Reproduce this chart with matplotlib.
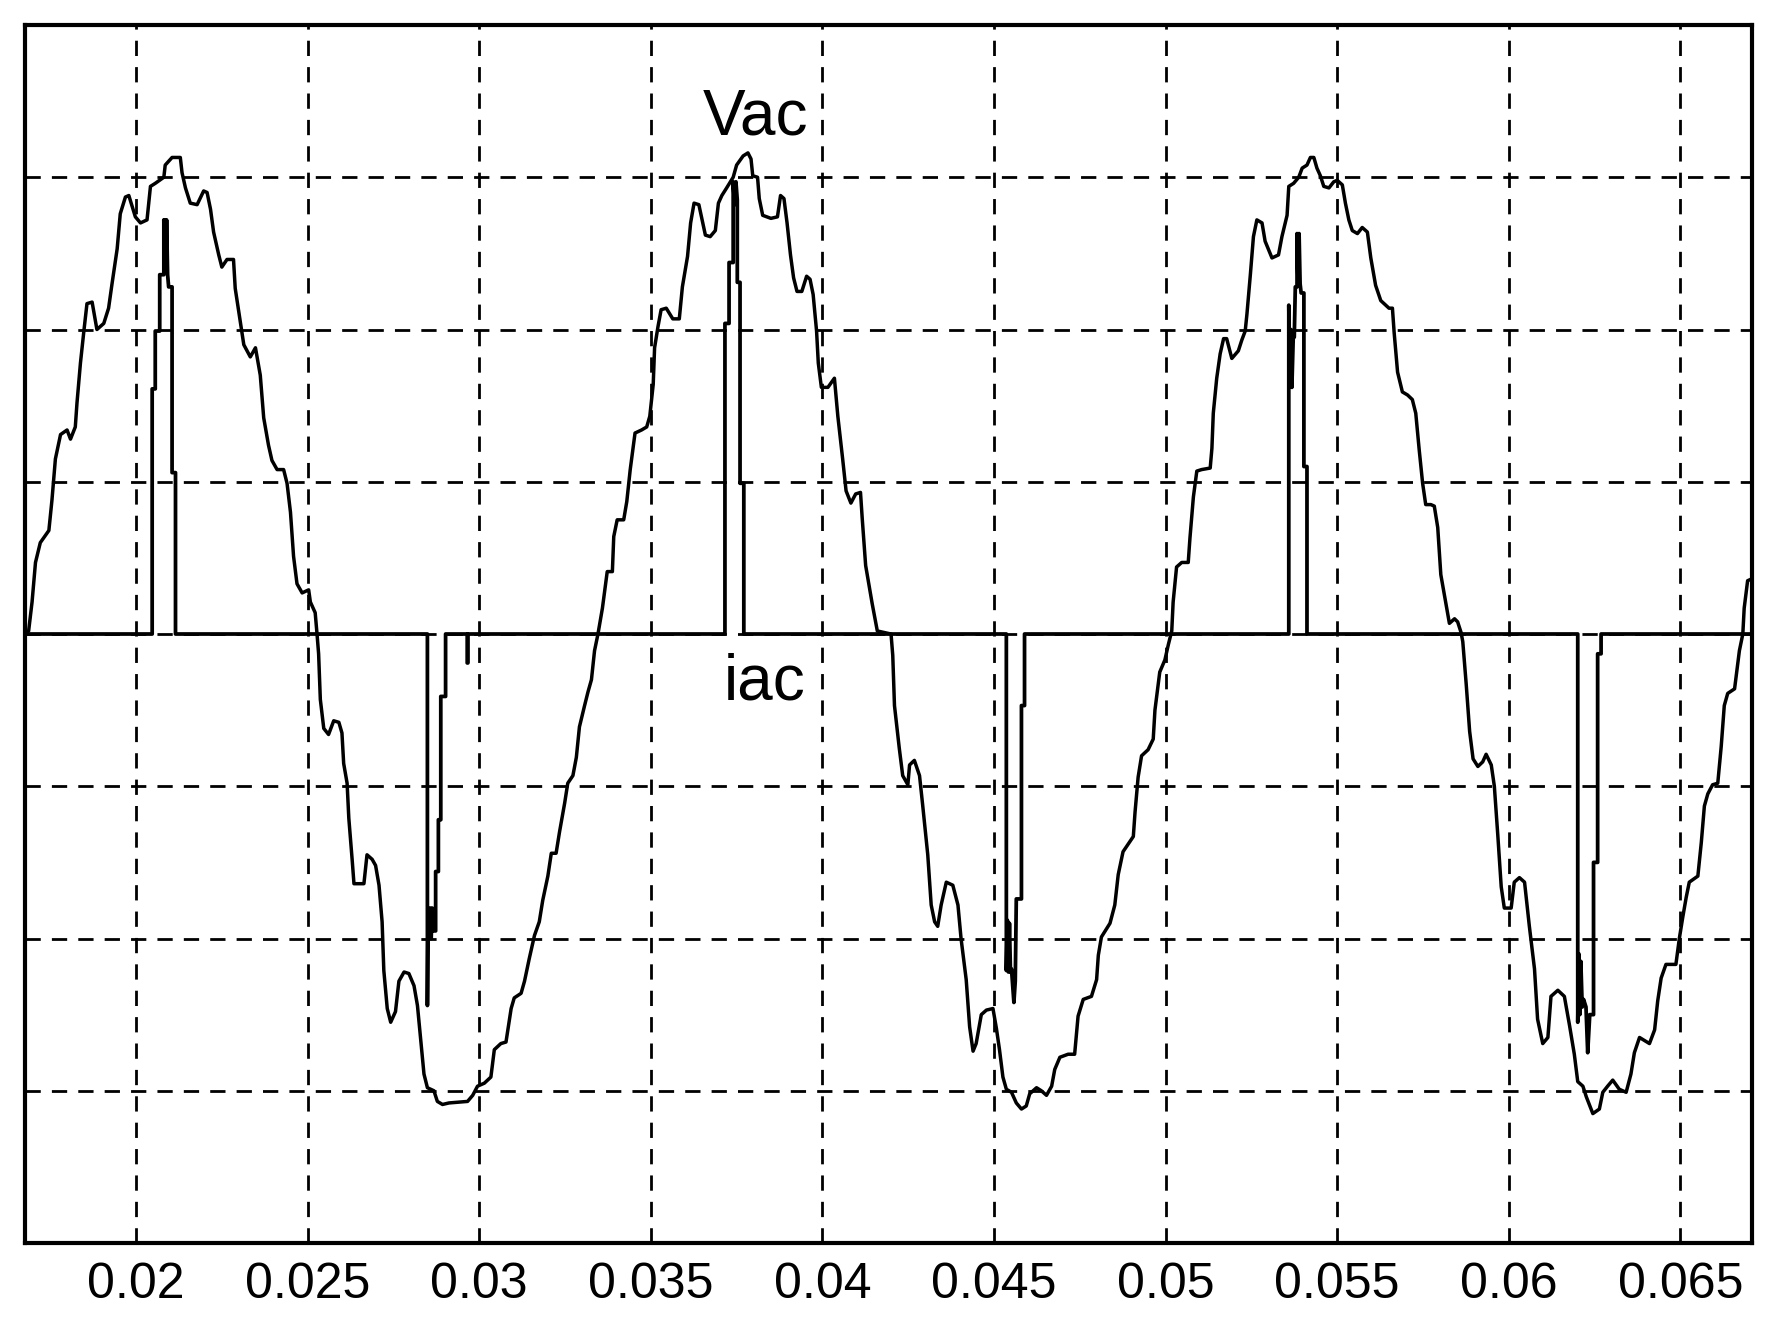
import matplotlib
matplotlib.use("Agg")
import matplotlib.pyplot as plt

# time axis limits (s) and grid ticks
t_min, t_max = 0.016766, 0.067086
x_ticks = [0.02, 0.025, 0.03, 0.035, 0.04, 0.045, 0.05, 0.055, 0.06, 0.065]
x_labels = ["0.02", "0.025", "0.03", "0.035", "0.04", "0.045", "0.05", "0.055", "0.06", "0.065"]
y_ticks = [-3, -2, -1, 0, 1, 2, 3]

# Vac trace (time in s, value in grid units)
vac_t = [
    0.016766, 0.01687, 0.01697, 0.01707, 0.01721, 0.01746, 0.01755, 0.01765, 0.01780, 0.01799,
    0.01809, 0.01823, 0.01828, 0.01838, 0.01848, 0.01857, 0.01872, 0.01886, 0.01906, 0.01920,
    0.01930, 0.01945, 0.01954, 0.01969, 0.01979, 0.01998, 0.02013, 0.02032, 0.02042, 0.02056,
    0.02081, 0.02085, 0.02105, 0.02129, 0.02134, 0.02144, 0.02158, 0.02178, 0.02197, 0.02207,
    0.02217, 0.02226, 0.02241, 0.02250, 0.02265, 0.02284, 0.02289, 0.02304, 0.02314, 0.02333,
    0.02348, 0.02362, 0.02372, 0.02386, 0.02396, 0.02411, 0.02430, 0.02440, 0.02450, 0.02459,
    0.02469, 0.02484, 0.02503, 0.02508, 0.02522, 0.02527,
    0.02532, 0.02537, 0.02547, 0.02561, 0.02576, 0.02591, 0.02600, 0.02605, 0.02615, 0.02620,
    0.02630, 0.02635, 0.02664, 0.02673, 0.02688, 0.02698, 0.02708, 0.02717, 0.02722, 0.02732,
    0.02742, 0.02756, 0.02766, 0.02781, 0.02795, 0.02810, 0.02820, 0.02829, 0.02839, 0.02849,
    0.02868, 0.02878, 0.02893, 0.02912, 0.02966, 0.02981, 0.02995, 0.03015, 0.03034, 0.03044,
    0.03063, 0.03078, 0.03093, 0.03102, 0.03122, 0.03132, 0.03146, 0.03161, 0.03175, 0.03185,
    0.03200, 0.03210, 0.03224, 0.03234, 0.03249, 0.03258, 0.03273, 0.03283, 0.03292, 0.03307,
    0.03317, 0.03327, 0.03336, 0.03346,
    0.03359, 0.03373, 0.03388, 0.03392, 0.03402, 0.03421, 0.03430, 0.03440, 0.03454, 0.03473,
    0.03488, 0.03497, 0.03507, 0.03511, 0.03521, 0.03530, 0.03545, 0.03564, 0.03583, 0.03592,
    0.03607, 0.03616, 0.03626, 0.03640, 0.03659, 0.03673, 0.03688, 0.03697, 0.03707, 0.03721,
    0.03740, 0.03750, 0.03769, 0.03783, 0.03792, 0.03797, 0.03811, 0.03816, 0.03826, 0.03850,
    0.03869, 0.03878, 0.03888, 0.03897, 0.03907, 0.03916, 0.03926, 0.03940, 0.03954, 0.03964,
    0.03973, 0.03983, 0.03988, 0.03997, 0.04016, 0.04035, 0.04045, 0.04059, 0.04069, 0.04083,
    0.04097, 0.04111, 0.04116, 0.04126, 0.04145, 0.04160, 0.04200,
    0.04205, 0.04210, 0.04224, 0.04234, 0.04249, 0.04254, 0.04268, 0.04283, 0.04292, 0.04307,
    0.04317, 0.04327, 0.04336, 0.04346, 0.04361, 0.04380, 0.04395, 0.04404, 0.04419, 0.04429,
    0.04439, 0.04448, 0.04463, 0.04478, 0.04497, 0.04507, 0.04516, 0.04526, 0.04536, 0.04551,
    0.04565, 0.04580, 0.04594, 0.04604, 0.04624, 0.04638, 0.04653, 0.04668, 0.04677, 0.04692,
    0.04716, 0.04735, 0.04745, 0.04760, 0.04784, 0.04799, 0.04804, 0.04813, 0.04838, 0.04852,
    0.04862, 0.04876, 0.04906, 0.04911, 0.04920, 0.04930, 0.04949, 0.04964, 0.04969, 0.04983,
    0.04998, 0.05008, 0.05018,
    0.05022, 0.05032, 0.05047, 0.05066, 0.05071, 0.05081, 0.05091, 0.05105, 0.05130, 0.05135,
    0.05139, 0.05149, 0.05159, 0.05169, 0.05178, 0.05193, 0.05212, 0.05222, 0.05232, 0.05237,
    0.05247, 0.05256, 0.05266, 0.05281, 0.05290, 0.05310, 0.05329, 0.05339, 0.05354, 0.05359,
    0.05373, 0.05388, 0.05398, 0.05412, 0.05422, 0.05432, 0.05441, 0.05451, 0.05461, 0.05476,
    0.05490, 0.05500, 0.05515, 0.05524, 0.05534, 0.05544, 0.05559, 0.05573, 0.05588, 0.05598,
    0.05612, 0.05627, 0.05651, 0.05661, 0.05666, 0.05676, 0.05690, 0.05705, 0.05719, 0.05729,
    0.05739, 0.05749, 0.05758, 0.05773, 0.05783, 0.05793, 0.05802, 0.05817, 0.05827, 0.05842,
    0.05851, 0.05861,
    0.05866, 0.05876, 0.05886, 0.05896, 0.05910, 0.05924, 0.05934, 0.05949, 0.05958, 0.05968,
    0.05978, 0.05987, 0.06007, 0.06016, 0.06031, 0.06046, 0.06060, 0.06075, 0.06084, 0.06099,
    0.06114, 0.06123, 0.06143, 0.06162, 0.06177, 0.06191, 0.06201, 0.06216, 0.06226, 0.06245,
    0.06264, 0.06274, 0.06288, 0.06303, 0.06322, 0.06342, 0.06356, 0.06366, 0.06381, 0.06410,
    0.06425, 0.06434, 0.06444, 0.06458, 0.06487, 0.06497, 0.06507, 0.06517, 0.06526, 0.06551,
    0.06561, 0.06570, 0.06580, 0.06594, 0.06609, 0.06619, 0.06628, 0.06638, 0.06658, 0.06672,
    0.06682, 0.06686, 0.06696, 0.06706,
]
vac_v = [
    0.00, 0.02, 0.21, 0.47, 0.60, 0.68, 0.88, 1.15, 1.31, 1.34,
    1.28, 1.36, 1.52, 1.78, 1.99, 2.17, 2.18, 2.00, 2.04, 2.14,
    2.30, 2.53, 2.76, 2.87, 2.88, 2.74, 2.70, 2.72, 2.94, 2.96,
    3.00, 3.08, 3.13, 3.13, 3.03, 2.93, 2.83, 2.82, 2.91, 2.90,
    2.79, 2.64, 2.49, 2.41, 2.46, 2.46, 2.27, 2.05, 1.90, 1.82,
    1.88, 1.70, 1.42, 1.24, 1.14, 1.08, 1.08, 0.99, 0.80, 0.51,
    0.33, 0.27, 0.29, 0.21, 0.14, 0.01,
    -0.13, -0.43, -0.62, -0.66, -0.57, -0.58, -0.65, -0.85, -0.98, -1.21,
    -1.49, -1.64, -1.64, -1.45, -1.48, -1.52, -1.65, -1.89, -2.21, -2.46,
    -2.55, -2.48, -2.28, -2.22, -2.23, -2.31, -2.44, -2.65, -2.89, -2.98,
    -3.00, -3.07, -3.09, -3.08, -3.07, -3.03, -2.97, -2.95, -2.91, -2.73,
    -2.69, -2.68, -2.46, -2.39, -2.36, -2.28, -2.13, -1.98, -1.89, -1.75,
    -1.59, -1.44, -1.44, -1.30, -1.11, -0.98, -0.93, -0.81, -0.61, -0.47,
    -0.38, -0.30, -0.11, 0.00,
    0.17, 0.41, 0.41, 0.64, 0.75, 0.75, 0.87, 1.08, 1.32, 1.34,
    1.36, 1.43, 1.64, 1.88, 2.02, 2.13, 2.14, 2.07, 2.07, 2.28,
    2.48, 2.70, 2.83, 2.82, 2.62, 2.61, 2.65, 2.83, 2.88, 2.93,
    3.00, 3.08, 3.14, 3.16, 3.12, 3.01, 3.00, 2.86, 2.75, 2.73,
    2.74, 2.88, 2.86, 2.70, 2.49, 2.34, 2.25, 2.25, 2.35, 2.33,
    2.23, 1.99, 1.78, 1.62, 1.62, 1.68, 1.43, 1.15, 0.94, 0.86,
    0.92, 0.93, 0.76, 0.45, 0.20, 0.02, 0.00,
    -0.14, -0.47, -0.75, -0.93, -0.99, -0.86, -0.83, -0.93, -1.12, -1.45,
    -1.78, -1.89, -1.92, -1.78, -1.63, -1.65, -1.78, -2.00, -2.27, -2.58,
    -2.74, -2.69, -2.50, -2.47, -2.46, -2.59, -2.73, -2.91, -2.99, -3.01,
    -3.08, -3.12, -3.10, -3.02, -2.98, -3.00, -3.03, -2.97, -2.86, -2.78,
    -2.76, -2.76, -2.51, -2.40, -2.38, -2.27, -2.11, -1.99, -1.90, -1.78,
    -1.58, -1.43, -1.33, -1.17, -0.94, -0.80, -0.76, -0.69, -0.50, -0.25,
    -0.17, -0.07, 0.02,
    0.21, 0.44, 0.47, 0.47, 0.63, 0.90, 1.07, 1.08, 1.09, 1.22,
    1.45, 1.68, 1.84, 1.94, 1.94, 1.81, 1.86, 1.93, 1.99, 2.10,
    2.36, 2.61, 2.72, 2.70, 2.58, 2.47, 2.49, 2.61, 2.75, 2.94,
    2.96, 3.00, 3.06, 3.08, 3.13, 3.13, 3.06, 3.01, 2.94, 2.93,
    2.97, 2.98, 2.95, 2.83, 2.72, 2.65, 2.63, 2.67, 2.64, 2.47,
    2.29, 2.19, 2.14, 2.14, 1.98, 1.72, 1.59, 1.57, 1.54, 1.45,
    1.21, 0.99, 0.85, 0.85, 0.84, 0.70, 0.39, 0.20, 0.07, 0.10,
    0.08, 0.01,
    -0.05, -0.33, -0.64, -0.82, -0.87, -0.84, -0.79, -0.86, -1.00, -1.32,
    -1.66, -1.80, -1.80, -1.63, -1.60, -1.63, -1.92, -2.20, -2.53, -2.69,
    -2.65, -2.38, -2.34, -2.38, -2.57, -2.76, -2.94, -2.97, -3.04, -3.15,
    -3.12, -3.01, -2.97, -2.93, -2.99, -3.01, -2.89, -2.75, -2.65, -2.69,
    -2.60, -2.41, -2.26, -2.17, -2.17, -2.00, -1.86, -1.73, -1.63, -1.59,
    -1.37, -1.13, -1.05, -0.99, -0.98, -0.74, -0.47, -0.39, -0.36, -0.11,
    0.00, 0.17, 0.35, 0.36,
]

# iac trace: zero with conduction pulses near each peak
iac_t = [
    0.016766,
    0.02047, 0.02047, 0.02056, 0.02056, 0.02069, 0.02069, 0.02081, 0.02081, 0.02083, 0.02085,
    0.02087, 0.02089, 0.02092, 0.02095, 0.02105, 0.02105, 0.02115, 0.02115,
    0.02849, 0.02849, 0.02851, 0.02854, 0.02857, 0.02860, 0.02863, 0.02866, 0.02873, 0.02873,
    0.02881, 0.02881, 0.02888, 0.02888, 0.02902, 0.02902,
    0.02965, 0.02965, 0.02967, 0.02967,
    0.03716, 0.03716, 0.03728, 0.03728, 0.03740, 0.03740, 0.03744, 0.03748, 0.03752, 0.03752,
    0.03760, 0.03760, 0.03771, 0.03771,
    0.04536, 0.04536, 0.04539, 0.04542, 0.04545, 0.04548, 0.04551, 0.04558, 0.04562, 0.04565,
    0.04580, 0.04580, 0.04589, 0.04589,
    0.05359, 0.05359, 0.05362, 0.05365, 0.05368, 0.05372, 0.05375, 0.05378, 0.05383, 0.05383,
    0.05386, 0.05389, 0.05392, 0.05395, 0.05403, 0.05403, 0.05412, 0.05412,
    0.06201, 0.06201, 0.06204, 0.06207, 0.06210, 0.06214, 0.06218, 0.06225, 0.06230, 0.06236,
    0.06247, 0.06247, 0.06259, 0.06259, 0.06269, 0.06269,
    0.067086,
]
iac_v = [
    0.0,
    0.0, 1.61, 1.61, 1.99, 1.99, 2.36, 2.36, 2.72, 2.40, 2.72,
    2.40, 2.72, 2.36, 2.28, 2.28, 1.06, 1.06, 0.0,
    0.0, -2.44, -1.85, -2.00, -1.80, -2.00, -1.80, -1.95, -1.95, -1.56,
    -1.56, -1.22, -1.22, -0.41, -0.41, 0.0,
    0.0, -0.19, -0.19, 0.0,
    0.0, 2.04, 2.04, 2.44, 2.44, 2.97, 2.82, 2.97, 2.85, 2.31,
    2.31, 0.99, 0.99, 0.0,
    0.0, -2.21, -1.88, -2.22, -1.90, -2.22, -2.20, -2.42, -2.28, -1.74,
    -1.74, -0.47, -0.47, 0.0,
    0.0, 2.16, 1.65, 2.00, 1.62, 1.95, 1.95, 2.28, 2.28, 2.63,
    2.30, 2.63, 2.30, 2.24, 2.24, 1.10, 1.10, 0.0,
    0.0, -2.55, -2.10, -2.50, -2.15, -2.45, -2.40, -2.45, -2.75, -2.50,
    -2.50, -1.50, -1.50, -0.13, -0.13, 0.0,
    0.0,
]

fig = plt.figure(figsize=(17.77, 13.30), dpi=100)
ax = fig.add_axes([0.0141, 0.0654, 0.9718, 0.9158])

grid_style = dict(color="black", lw=2.0, linestyle=(0, (5.5, 4.0)), zorder=1)
for xt in x_ticks:
    ax.axvline(xt, **grid_style)
for yt in y_ticks:
    ax.axhline(yt, **grid_style)

ax.plot(vac_t, vac_v, color="black", lw=2.5, zorder=3)
ax.plot(iac_t, iac_v, color="black", lw=2.7, zorder=4)

ax.text(0.03652, 3.28, "Vac", fontsize=46, family="Liberation Sans", ha="left", va="baseline")
ax.text(0.03712, -0.43, "iac", fontsize=46, family="Liberation Sans", ha="left", va="baseline")

ax.set_xlim(t_min, t_max)
ax.set_ylim(-4.0, 4.0)
ax.set_xticks(x_ticks)
ax.set_xticklabels(x_labels, fontsize=36, family="Liberation Sans")
ax.set_yticks([])
ax.tick_params(axis="x", length=0, pad=14)
for sp in ax.spines.values():
    sp.set_linewidth(3.0)
    sp.set_color("black")

fig.savefig("out.png", dpi=100)
